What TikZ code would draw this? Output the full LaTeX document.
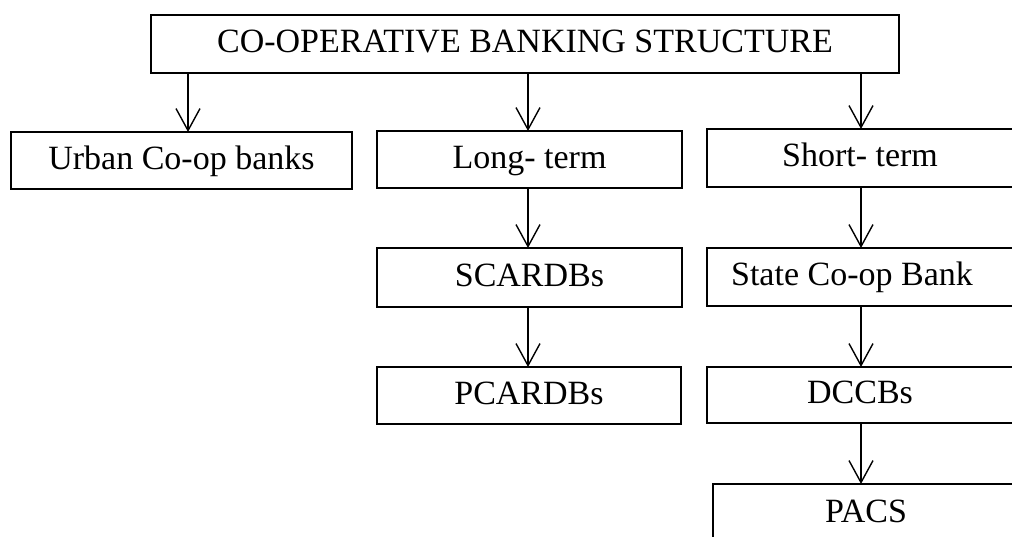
\documentclass[tikz,border=0pt]{standalone}
\usepackage{fontspec}
\setmainfont{Liberation Serif}
\usetikzlibrary{arrows.meta}
\tikzset{
  bx/.style={draw=black, line width=1.8pt, inner sep=0pt, outer sep=0pt,
    font=\fontsize{34}{40}\selectfont, anchor=center,
    text height=24pt, text depth=7pt},
  arr/.style={line width=1.4pt, -{Straight Barb[length=22pt,width=24pt,line width=1.4pt]}}
}
\begin{document}
\begin{tikzpicture}[x=1pt,y=-1pt]
\useasboundingbox (0,0) rectangle (1012,536);
\fill[white] (0,0) rectangle (1012,536);
% nodes
\node[bx, minimum width=748pt, minimum height=58pt] (top) at (525,44) {CO-OPERATIVE BANKING STRUCTURE};
\node[bx, minimum width=341pt, minimum height=57pt] (urban) at (181.5,160.5) {Urban Co-op banks};
\node[bx, minimum width=305pt, minimum height=57pt] (long) at (529.5,159.5) {Long- term};
\node[bx, minimum width=306pt, minimum height=58pt] (short) at (860,158) {Short- term};
\node[bx, minimum width=305pt, minimum height=59pt] (scard) at (529.5,277.5) {SCARDBs};
\node[bx, minimum width=304pt, minimum height=57pt] (pcard) at (529,395.5) {PCARDBs};
\node[bx, minimum width=306pt, minimum height=58pt] (state) at (860,277) {State Co-op Bank\hspace*{16pt}};
\node[bx, minimum width=306pt, minimum height=56pt] (dccb) at (860,395) {DCCBs};
\node[bx, minimum width=306pt, minimum height=60pt] (pacs) at (866,514) {PACS};
% x positions of connectors
\coordinate (xa) at (188,0);
\coordinate (xb) at (528,0);
\coordinate (xc) at (861,0);
% connectors
\draw[arr] (top.south -| xa) -- (urban.north -| xa);
\draw[arr] (top.south -| xb) -- (long.north -| xb);
\draw[arr] (top.south -| xc) -- (short.north -| xc);
\draw[arr] (long.south -| xb) -- (scard.north -| xb);
\draw[arr] (scard.south -| xb) -- (pcard.north -| xb);
\draw[arr] (short.south -| xc) -- (state.north -| xc);
\draw[arr] (state.south -| xc) -- (dccb.north -| xc);
\draw[arr] (dccb.south -| xc) -- (pacs.north -| xc);
\end{tikzpicture}
\end{document}
